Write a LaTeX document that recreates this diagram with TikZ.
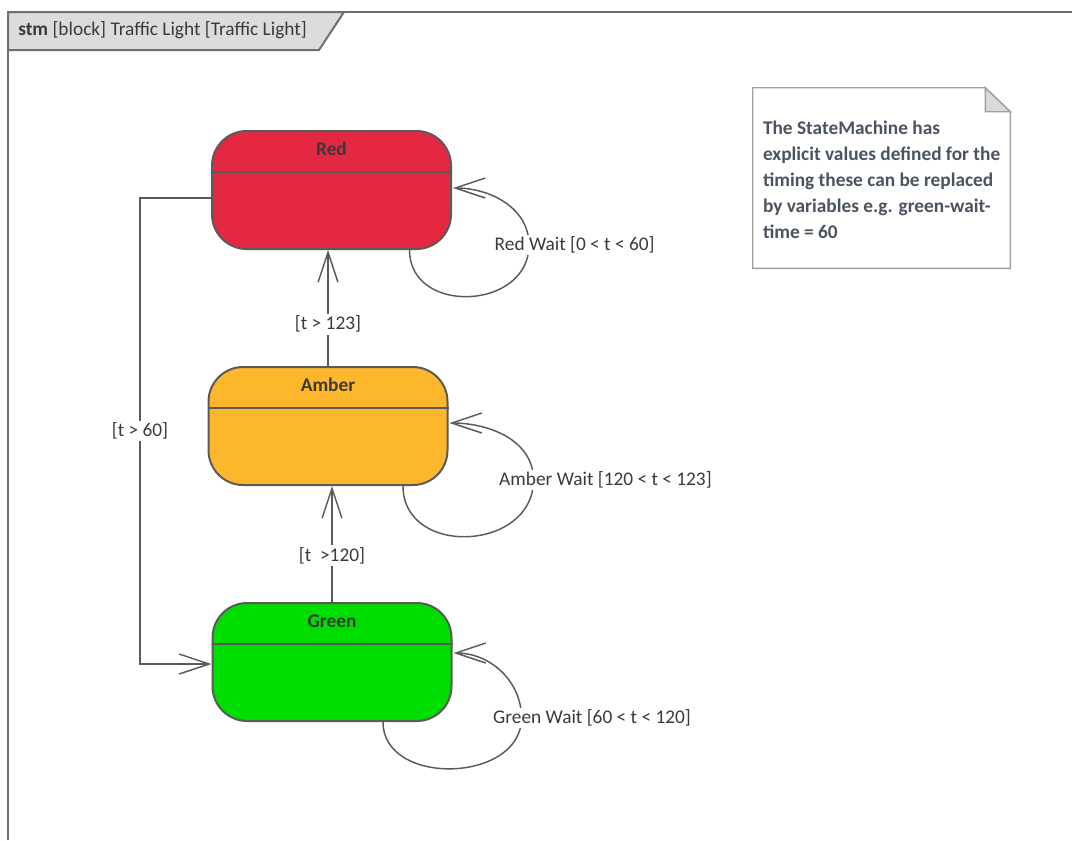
\documentclass[tikz,border=0pt]{standalone}
\usepackage{fontspec}
\setmainfont{Carlito}
\usetikzlibrary{arrows.meta,calc}
\definecolor{TLFrame}{HTML}{6E6E6E}
\definecolor{TLTab}{HTML}{DCDCDC}
\definecolor{TLStroke}{HTML}{5A5A5A}
\definecolor{TLRed}{HTML}{E52842}
\definecolor{TLAmber}{HTML}{FDB72D}
\definecolor{TLGreen}{HTML}{00DD00}
\definecolor{TLText}{HTML}{3A3A3A}
\definecolor{TLNoteEdge}{HTML}{A0A0A0}
\definecolor{TLNoteFold}{HTML}{DADADA}
\definecolor{TLNoteText}{HTML}{4A5460}

\begin{document}
\begin{tikzpicture}[x=0.75pt,y=-0.75pt,font=\fontsize{14.5}{17}\selectfont,text=TLText,
  state/.style={draw=TLStroke,line width=1.5pt,rounded corners=26pt,minimum width=179.25pt,minimum height=88.5pt,inner sep=0pt},
  statename/.style={font=\fontsize{14.5}{17}\selectfont\bfseries,inner sep=0pt},
  trans/.style={draw=TLStroke,line width=1.1pt,-{Straight Barb[length=22.5pt,width=15pt,line width=1.1pt]}},
  edgelabel/.style={fill=white,inner sep=1.5pt},
  notebox/.style={minimum width=192.75pt,minimum height=135pt,inner sep=0pt}]
  \useasboundingbox (0,0) rectangle (1072,840);

  % frame and its tab
  \draw[TLFrame,line width=1.5pt] (8,840) -- (8,12) -- (1072,12);
  \filldraw[fill=TLTab,draw=TLFrame,line width=1.5pt] (8,12) -- (344,12) -- (319,50) -- (8,50) -- cycle;
  \node[anchor=west,inner sep=0pt] (title) at (18,30) {\textbf{stm} [block] Traffic Light [Traffic Light]};

  % states
  \node[state,fill=TLRed] (red) at (331.5,190) {};
  \node[state,fill=TLAmber] (amber) at (328,426) {};
  \node[state,fill=TLGreen] (green) at (332,662) {};
  \foreach \s/\t in {red/Red,amber/Amber,green/Green}{
    \draw[TLStroke,line width=1.5pt] ($(\s.north west)+(0,42)$) -- ($(\s.north east)+(0,42)$);
    \node[statename] (\s name) at ($(\s.north)+(0,19)$) {\t};
  }

  % transitions
  \draw[trans] (amber.north) -- node[edgelabel,pos=0.36] {[t > 123]} (amber.north |- red.south);
  \draw[trans] (green.north) -- node[edgelabel,pos=0.4] {[t~ >120]} (green.north |- amber.south);
  \draw[trans] ($(red.west)+(0,8)$) -- ++(-71,0) |- node[edgelabel,pos=0.25] {[t > 60]} ($(green.west)+(0,2)$);

  % self loops
  \draw[trans] ($(red.south)+(78,0)$) to[out=-90,in=-90,looseness=1.4]
    node[edgelabel,pos=1,anchor=west,xshift=-27.75pt] {Red Wait [0 < t < 60]}
    ($(red.east)+(77,55)$) to[out=90,in=0] ($(red.east)+(1,-2)$);
  \draw[trans] ($(amber.south)+(75,0)$) to[out=-90,in=-90,looseness=1.4]
    node[edgelabel,pos=1,anchor=west,xshift=-27.75pt] {Amber Wait [120 < t < 123]}
    ($(amber.east)+(85,54)$) to[out=90,in=0] ($(amber.east)+(1,-3)$);
  \draw[trans] ($(green.south)+(51,0)$) to[out=-90,in=-90,looseness=1.2]
    node[edgelabel,pos=1,anchor=west,xshift=-23.25pt] {Green Wait [60 < t < 120]}
    ($(green.east)+(69,56)$) to[out=90,in=0] ($(green.east)+(1,-9)$);

  % note
  \node[notebox] (note) at (881.5,178) {};
  \filldraw[fill=white,draw=TLNoteEdge,line width=1.1pt] (note.south west) -- (note.north west) -- ($(note.north east)+(-25,0)$)
    -- ($(note.north east)+(0,24)$) -- (note.south east) -- cycle;
  \filldraw[fill=TLNoteFold,draw=TLNoteEdge,line width=1.1pt] ($(note.north east)+(-25,0)$) -- ($(note.north east)+(-25,24)$)
    -- ($(note.north east)+(0,24)$) -- cycle;
  \node[anchor=west,align=left,inner sep=0pt,text=TLNoteText,font=\fontsize{14.5}{19.5}\selectfont\bfseries] (notetext)
    at ($(note.west)+(10,2)$) {The StateMachine has\\explicit values defined for the\\timing these can be replaced\\by variables e.g. green-wait-\\time = 60};
\end{tikzpicture}
\end{document}
